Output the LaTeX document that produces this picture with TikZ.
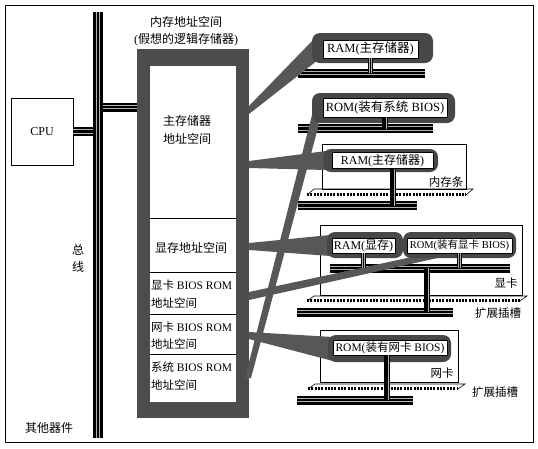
\documentclass[tikz,border=0pt]{standalone}
\usepackage{fontspec}
\setmainfont{Liberation Serif}
\newfontfamily\zhfont{Noto Sans CJK SC}
\newcommand\zh[1]{{\zhfont #1}}
\usetikzlibrary{calc}
\begin{document}
\begin{tikzpicture}[x=1pt,y=-1pt,
  every node/.style={inner sep=0pt, outer sep=0pt},
  txt/.style={font=\fontsize{12}{18}\selectfont},
  smalltxt/.style={font=\fontsize{11.5}{14}\selectfont},
  bigbus/.style={draw=black, line width=10.5pt, postaction={draw=black!30, line width=1.0pt, double=black, double distance=2.8pt}},
  hbus/.style={draw=black, line width=9pt, postaction={draw=black!30, line width=0.9pt, double=black, double distance=2.4pt}},
  stub/.style={draw=black, line width=5.5pt, postaction={draw=black!30, line width=0.7pt, double=black, double distance=1.6pt}},
  frame/.style={fill=black!72, rounded corners=8pt},
  lbl/.style={fill=white, draw=black, line width=0.6pt, font=\fontsize{12.5}{14}\selectfont},
  card/.style={draw=black, line width=0.6pt},
  wedge/.style={fill=black!66},
  slotedge/.style={draw=black, line width=0.6pt},
  slotdots/.style={draw=black, line width=2.4pt, dash pattern=on 2pt off 1.3pt},
  divider/.style={draw=black, line width=0.6pt}
]
\useasboundingbox (0,0) rectangle (538,448);
% outer frame
\node[draw, line width=0.8pt, minimum width=528pt, minimum height=437pt] (outer) at (269,223.5) {};

% CPU and system bus
\node[draw, line width=0.6pt, minimum width=62pt, minimum height=67pt, txt] (cpu) at (42,131.5) {CPU};
\coordinate (busT) at (98,12);
\coordinate (busB) at (98,438);
\draw[bigbus] (busT) -- (busB);
\coordinate (busL) at (93,131.5);
\draw[hbus] (cpu.east) -- (busL);

% memory address space
\node[fill=black!70, minimum width=112pt, minimum height=369pt] (mem) at (193,233.5) {};
\node[fill=white, minimum width=86pt, minimum height=336pt] (memin) at (193,234) {};
\coordinate (busR) at (103,107);
\draw[hbus] (busR) -- (busR -| mem.west);
\draw[divider] (150,218) -- (236,218);
\draw[divider] (150,272) -- (236,272);
\draw[divider] (150,314) -- (236,314);
\draw[divider] (150,354) -- (236,354);

\node[txt] (title1) at (186,22) {\zh{内存地址空间}};
\node[txt] (title2) at (186,40) {(\zh{假想的逻辑存储器})};
\node[txt, align=center] (mainsp) at (187,129.5) {\zh{主存储器}\\\zh{地址空间}};
\node[txt] (vsp) at (191,248) {\zh{显存地址空间}};
\node[anchor=west, align=left, font=\fontsize{11.5}{18}\selectfont] (vbios) at (151,294) {\zh{显卡} BIOS ROM\\\zh{地址空间}};
\node[anchor=west, align=left, font=\fontsize{11.5}{17}\selectfont] (nbios) at (151,335.5) {\zh{网卡} BIOS ROM\\\zh{地址空间}};
\node[anchor=west, align=left, font=\fontsize{11.5}{18}\selectfont] (sbios) at (151,376) {\zh{系统} BIOS ROM\\\zh{地址空间}};

\node[txt] (other) at (49,428) {\zh{其他器件}};
\node[txt] (zong) at (78,250) {\zh{总}};
\node[txt] (xian) at (78,267) {\zh{线}};

% cards
\node[card, minimum width=144pt, minimum height=45pt] (ramcard) at (394,166.5) {};
\node[card, minimum width=202pt, minimum height=70pt] (vcard) at (421,260) {};
\node[card, minimum width=138pt, minimum height=52pt] (ncard) at (389,356) {};
\node[smalltxt] (ramcardlbl) at (446,182) {\zh{内存条}};
\node[smalltxt] (vcardlbl) at (506,283) {\zh{显卡}};
\node[smalltxt] (ncardlbl) at (442,373) {\zh{网卡}};
\node[smalltxt] (slot1lbl) at (498,313) {\zh{扩展插槽}};
\node[smalltxt] (slot2lbl) at (495,392) {\zh{扩展插槽}};

% slots
\draw[slotedge] (307,195) -- (314,189) -- (473,189) -- (466,195);
\draw[slotdots] (307,194.5) -- (466,194.5);
\draw[slotedge] (307,301) -- (314,296) -- (527,296) -- (520,301);
\draw[slotdots] (307,300.5) -- (520,300.5);
\draw[slotedge] (308,389) -- (315,384) -- (465,384) -- (458,389);
\draw[slotdots] (308,388.5) -- (458,388.5);

% buses on the right
\coordinate (b1w) at (298,73);   \coordinate (b1e) at (425,73);
\coordinate (b2w) at (298,128.5); \coordinate (b2e) at (433,128.5);
\coordinate (b3w) at (298,205.5); \coordinate (b3e) at (417,205.5);
\coordinate (ibw) at (330,268);  \coordinate (ibe) at (510,268);
\coordinate (b4w) at (297,312);  \coordinate (b4e) at (453,312);
\coordinate (b5w) at (297,400);  \coordinate (b5e) at (413,400);
\draw[hbus] (b1w) -- (b1e);
\draw[hbus] (b2w) -- (b2e);
\draw[hbus] (b3w) -- (b3e);
\draw[hbus] (ibw) -- (ibe);
\draw[hbus] (b4w) -- (b4e);
\draw[hbus] (b5w) -- (b5e);

% wedges
\fill[wedge] (249,106) -- (313,40) -- (318,60) -- (249,114) -- cycle;
\fill[wedge] (245,378) -- (251,378) -- (319,124) -- (312,115) -- cycle;
\fill[wedge] (249,161) -- (326,151) -- (326,170) -- (249,168) -- cycle;
\fill[wedge] (249,243) -- (330,235) -- (330,256) -- (249,250) -- cycle;
\fill[wedge] (249,292) -- (412,257) -- (442,257) -- (249,300) -- cycle;
\fill[wedge] (249,332) -- (333,337) -- (333,361) -- (249,339) -- cycle;

% device frames
\node[frame, minimum width=121pt, minimum height=30pt] (f1) at (372.5,48) {};
\node[frame, minimum width=143pt, minimum height=30pt] (f2) at (383.5,108) {};
\node[frame, minimum width=115pt, minimum height=23pt] (f3) at (380.5,160.5) {};
\node[frame, minimum width=76pt, minimum height=26pt] (f4) at (365,245) {};
\node[frame, minimum width=113pt, minimum height=26pt] (f5) at (459.5,245) {};
\node[frame, minimum width=123pt, minimum height=27pt] (f6) at (389.5,348.5) {};

\node[lbl, minimum width=95pt, minimum height=18pt] (r1) at (370.5,49) {RAM(\zh{主存储器})};
\node[lbl, minimum width=124pt, minimum height=19pt] (r2) at (385,107.5) {ROM(\zh{装有系统} BIOS)};
\node[lbl, minimum width=101pt, minimum height=16pt, font=\fontsize{12}{14}\selectfont] (r3) at (382.5,160.5) {RAM(\zh{主存储器})};
\node[lbl, minimum width=63pt, minimum height=15pt, font=\fontsize{12}{14}\selectfont] (r4) at (363.5,245.5) {RAM(\zh{显存})};
\node[lbl, minimum width=105pt, minimum height=15pt, font=\fontsize{10.5}{12}\selectfont] (r5) at (459.5,245.5) {ROM(\zh{装有显卡} BIOS)};
\node[lbl, minimum width=114pt, minimum height=15pt, font=\fontsize{11.5}{13}\selectfont] (r6) at (390,347.5) {ROM(\zh{装有网卡} BIOS)};

% stubs
\coordinate (s3) at (393,168.5);
\coordinate (ibx) at (427,268);
\draw[stub] (r1.south) -- (r1.south |- b1w);
\draw[stub] (r2.south) -- (r2.south |- b2w);
\draw[stub] (s3) -- (s3 |- b3w);
\draw[stub] (r4.south) -- (r4.south |- ibw);
\draw[stub] (r5.south) -- (r5.south |- ibw);
\draw[stub] (ibx) -- (ibx |- b4w);
\draw[stub] ([xshift=-3pt]r6.south) -- ([xshift=-3pt]r6.south |- b5w);
\end{tikzpicture}
\end{document}
